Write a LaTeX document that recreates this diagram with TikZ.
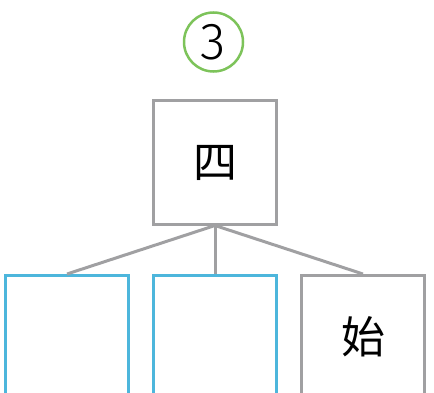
\documentclass[tikz,border=0pt]{standalone}
\usepackage{fontspec}
\setmainfont{Fira Sans Light}
\newfontfamily\cjk{Noto Sans CJK SC}
\definecolor{boxgray}{RGB}{160,160,162}
\definecolor{hiblue}{RGB}{77,182,220}
\definecolor{stepgreen}{RGB}{125,195,90}
\tikzset{
  charbox/.style={draw=boxgray, line width=3pt, minimum size=123pt,
    inner sep=0pt, font=\cjk\fontsize{44}{44}\selectfont},
  emptybox/.style={charbox, draw=hiblue},
  stepnum/.style={draw=stepgreen, line width=2.5pt, circle,
    minimum size=59pt, inner sep=0pt, font=\fontsize{52}{52}\selectfont}
}
\begin{document}
\begin{tikzpicture}
    [level 1/.style={sibling distance=148pt, level distance=174.5pt},
     edge from parent/.style={draw=boxgray, line width=3pt},
     edge from parent path={(\tikzparentnode.south) -- (\tikzchildnode.north)}]
    \useasboundingbox (0,0) rectangle (434pt,-393pt);
    \node[stepnum] (step) at (213.5pt,-42pt) {3};
    \node[charbox] (root) at (215pt,-162.5pt) {四}
      child { node[emptybox] (left) {} }
      child { node[emptybox] (mid) {} }
      child { node[charbox] (right) {始} } ;
\end{tikzpicture}
\end{document}
